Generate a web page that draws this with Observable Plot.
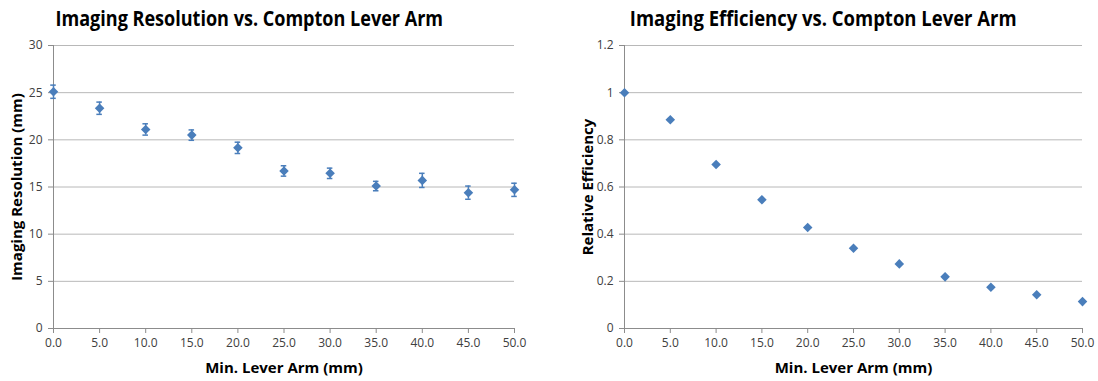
<!DOCTYPE html>
<html><head><meta charset="utf-8">
<script src="https://cdn.jsdelivr.net/npm/d3@7"></script>
<script src="https://cdn.jsdelivr.net/npm/@observablehq/plot@0.6"></script>
<style>
body{margin:0;background:#fff;width:1098px;height:381px;overflow:hidden;position:relative;font-family:"Open Sans",sans-serif}
.panel{position:absolute;top:0;width:549px;height:381px}
.title{position:absolute;top:2px;width:549px;text-align:center;font-weight:bold;font-size:22px;color:#000;white-space:nowrap;z-index:2}
.title span{display:inline-block;transform-origin:center}
.panel svg{position:absolute;top:0;left:0}
</style></head>
<body>
<div class="panel" id="left" style="left:0"><div class="title" style="left:-25px"><span style="transform:scaleX(0.82)">Imaging Resolution vs. Compton Lever Arm</span></div></div>
<div class="panel" id="right" style="left:549px"><div class="title" style="left:0px"><span style="transform:scaleX(0.84)">Imaging Efficiency vs. Compton Lever Arm</span></div></div>
<script>
const leverArm = [0, 5, 10, 15, 20, 25, 30, 35, 40, 45, 50];
const resolution = [25.1, 23.35, 21.1, 20.5, 19.15, 16.7, 16.45, 15.1, 15.7, 14.4, 14.7];
const resolutionErr = [0.7, 0.65, 0.6, 0.55, 0.6, 0.55, 0.55, 0.5, 0.75, 0.7, 0.7];
const efficiency = [1.0, 0.885, 0.695, 0.546, 0.428, 0.34, 0.274, 0.219, 0.175, 0.143, 0.114];
const xTicks = [0, 5, 10, 15, 20, 25, 30, 35, 40, 45, 50];
const resTicks = [0, 5, 10, 15, 20, 25, 30];
const effTicks = [0, 0.2, 0.4, 0.6, 0.8, 1.0, 1.2];

const blue = "#4a7ebb";
const grid = "#b8b8b8";
const axisCol = "#8c8c8c";
const textCol = "#404040";

const resData = leverArm.map((x, i) => ({x, y: resolution[i], e: resolutionErr[i]}));
const effData = leverArm.map((x, i) => ({x, y: efficiency[i]}));

function common(yTicks, yLabel, yFmt, opts) {
  return {
    width: 549, height: 381,
    marginLeft: opts.ml, marginRight: opts.mr, marginTop: 45, marginBottom: 53,
    style: {fontFamily: "Open Sans, sans-serif", fontSize: "12px", color: textCol, background: "transparent", overflow: "visible"},
    x: {domain: [0, 50]},
    y: {domain: [yTicks[0], yTicks[yTicks.length - 1]]},
    marks: [
      Plot.gridY(yTicks.slice(1), {stroke: grid, strokeOpacity: 1}),
      Plot.ruleX([0], {stroke: axisCol}),
      Plot.ruleY([yTicks[0]], {stroke: axisCol}),
      Plot.axisY(yTicks, {tickSize: 5, stroke: axisCol, tickPadding: 6, tickFormat: yFmt, fill: textCol, fontSize: 12,
        label: yLabel, labelAnchor: "center", labelArrow: "none", labelOffset: opts.lo}),
      Plot.axisX(xTicks, {tickSize: 5, stroke: axisCol, tickPadding: 5, tickFormat: d3.format(".1f"), fill: textCol, fontSize: 12,
        label: "Min. Lever Arm (mm)", labelAnchor: "center", labelArrow: "none", labelOffset: 44}),
    ]
  };
}

function styleLabels(svg) {
  svg.querySelectorAll('g[aria-label="y-axis label"] text, g[aria-label="x-axis label"] text').forEach(t => {
    t.setAttribute("font-weight", "bold");
    t.setAttribute("font-size", "15");
    t.setAttribute("fill", "#000");
  });
  return svg;
}

const lc = common(resTicks, "Imaging Resolution (mm)", d => String(d), {ml: 53, mr: 35, lo: 42});
lc.marks.push(
  Plot.ruleX(resData, {x: "x", y1: d => d.y - d.e, y2: d => d.y + d.e, stroke: blue, strokeWidth: 1.5}),
  Plot.ruleY(resData, {y: d => d.y - d.e, x1: d => d.x - 0.3, x2: d => d.x + 0.3, stroke: blue, strokeWidth: 1.5}),
  Plot.ruleY(resData, {y: d => d.y + d.e, x1: d => d.x - 0.3, x2: d => d.x + 0.3, stroke: blue, strokeWidth: 1.5}),
  Plot.dot(resData, {x: "x", y: "y", symbol: "diamond2", r: 4.3, fill: blue, stroke: null})
);
document.getElementById("left").appendChild(styleLabels(Plot.plot(lc)));

const rc = common(effTicks, "Relative Efficiency", d => String(+d.toFixed(1)), {ml: 75, mr: 16, lo: 42});
rc.marks.push(
  Plot.dot(effData, {x: "x", y: "y", symbol: "diamond2", r: 4.3, fill: blue, stroke: null})
);
document.getElementById("right").appendChild(styleLabels(Plot.plot(rc)));
</script>
</body></html>
